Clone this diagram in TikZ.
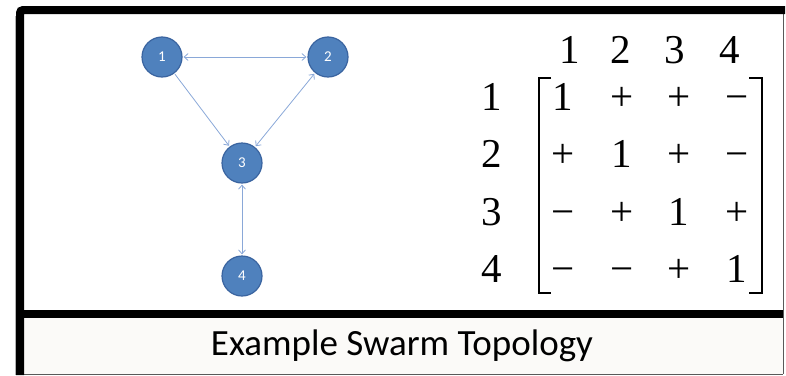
\documentclass[tikz,border=0pt]{standalone}
\usepackage{fontspec}
\setmainfont{Liberation Serif}
\newfontfamily\tnr{Liberation Serif}
\newfontfamily\calib{Carlito}
\usetikzlibrary{arrows.meta}
\definecolor{nodefill}{HTML}{4F81BD}
\definecolor{nodeedge}{HTML}{3A64A0}
\definecolor{edgeblue}{HTML}{8AA8D8}
\definecolor{capfill}{HTML}{FBFAF8}
\tikzset{
  agent/.style={circle, fill=nodefill, draw=nodeedge, line width=1.2pt, minimum size=40pt, inner sep=0pt, text=white, font=\calib\fontsize{15}{15}\selectfont},
  link/.style={draw=edgeblue, line width=0.8pt, shorten <=1pt, shorten >=1pt},
  tip/.style={-{Straight Barb[length=4pt,width=7pt,line width=0.8pt]}},
  tips/.style={{Straight Barb[length=4pt,width=7pt,line width=0.8pt]}-{Straight Barb[length=4pt,width=7pt,line width=0.8pt]}},
  mat/.style={anchor=base, inner sep=0pt, font=\tnr\fontsize{41}{41}\selectfont},
  frameline/.style={line width=8pt, black},
  thinline/.style={line width=1pt, gray!70!black}
}
\begin{document}
\begin{tikzpicture}[x=1pt,y=-1pt]
\useasboundingbox (0,0) rectangle (786,375);
% caption background
\fill[capfill] (24,318) rectangle (783,374);
% frame
\draw[thinline] (783,14) -- (783,374);
\draw[thinline] (24,374) -- (783,374);
\draw[gray!60, line width=0.6pt] (15,16) -- (15,375);
\draw[frameline, rounded corners=3pt] (20,375) -- (20,10) -- (785,10);
\draw[frameline] (16,314) -- (783,314);
% nodes
\node[agent] (n1) at (162,57) {1};
\node[agent] (n2) at (328,57) {2};
\node[agent] (n3) at (242,163) {3};
\node[agent] (n4) at (242,276) {4};
% links
\draw[link, tips] (n1) -- (n2);
\draw[link, tip] (n1) -- (n3);
\draw[link, tips] (n2) -- (n3);
\draw[link, tips] (n3) -- (n4);
% column headers
\node[mat] (h1) at (570,63) {1};
\node[mat] (h2) at (621,63) {2};
\node[mat] (h3) at (675,63) {3};
\node[mat] (h4) at (730,63) {4};
% row labels
\node[mat] (r1) at (492,110) {1};
\node[mat] (r2) at (492,167) {2};
\node[mat] (r3) at (492,225) {3};
\node[mat] (r4) at (492,282) {4};
% entries
\node[mat] (a11) at (563,110) {1};
\node[mat] (a12) at (622,110) {+};
\node[mat] (a13) at (679,110) {+};
\node[mat] (a14) at (737,110) {−};
\node[mat] (a21) at (563,167) {+};
\node[mat] (a22) at (622,167) {1};
\node[mat] (a23) at (679,167) {+};
\node[mat] (a24) at (737,167) {−};
\node[mat] (a31) at (563,225) {−};
\node[mat] (a32) at (622,225) {+};
\node[mat] (a33) at (679,225) {1};
\node[mat] (a34) at (737,225) {+};
\node[mat] (a41) at (563,282) {−};
\node[mat] (a42) at (622,282) {−};
\node[mat] (a43) at (679,282) {+};
\node[mat] (a44) at (737,282) {1};
% brackets
\draw[line width=1.3pt] (551,78) -- (539,78) -- (539,293) -- (551,293);
\draw[line width=1.3pt] (749,78) -- (762,78) -- (762,293) -- (749,293);
% caption
\node[font=\calib\fontsize{37}{37}\selectfont, inner sep=0pt] (cap) at (402,346) {Example Swarm Topology};
\end{tikzpicture}
\end{document}
